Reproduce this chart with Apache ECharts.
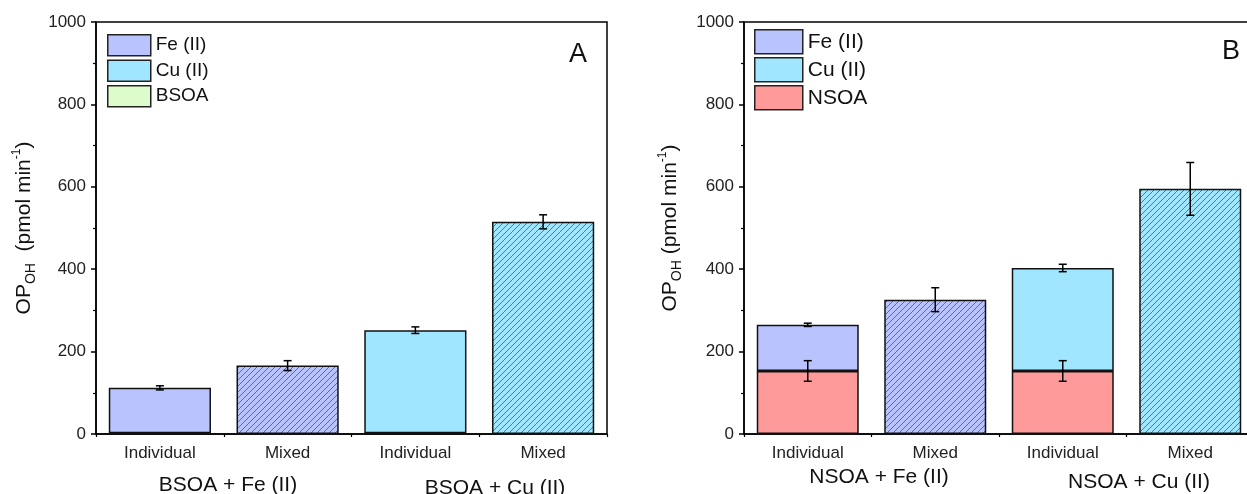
<!DOCTYPE html>
<html>
<head>
<meta charset="utf-8">
<script src="https://cdn.jsdelivr.net/npm/echarts@6/dist/echarts.min.js"></script>
<style>
  html, body { margin: 0; padding: 0; background: #fff; overflow: hidden; }
  #chart { width: 1255px; height: 494px; }
</style>
</head>
<body>
<div id="chart"></div>
<script>
// Categories shared by both panels
const categories = ['Individual', 'Mixed', 'Individual', 'Mixed'];

// Panel A: BSOA with Fe(II) / Cu(II), pmol min^-1
const bsoaA = [2, '-', 2, '-'];
const feA = [110, 166, '-', '-'];
const cuA = ['-', '-', 250, 515];
const errA = [5, 12, 8, 17];

// Panel B: NSOA with Fe(II) / Cu(II), pmol min^-1
const nsoaB = [153, '-', 153, '-'];
const feB = [112, 326, '-', '-'];
const cuB = ['-', '-', 250, 595];
const errNsoaB = [25, '-', 25, '-'];
const errTopB = [4, 29, 9, 64];

const groupsA = ['BSOA + Fe (II)', 'BSOA + Cu (II)'];
const groupsB = ['NSOA + Fe (II)', 'NSOA + Cu (II)'];

const FONT = "'Liberation Sans', Arial, sans-serif";
const COLORS = { fe: '#b9c3fd', cu: '#9fe6fe', bsoa: '#dcfdcb', nsoa: '#fe9a9a' };

// Diagonal hatch pattern for the mixed samples
function hatch(bg) {
  const s = 6;
  const c = document.createElement('canvas');
  c.width = s; c.height = s;
  const g = c.getContext('2d');
  g.fillStyle = bg; g.fillRect(0, 0, s, s);
  g.strokeStyle = 'rgba(50,50,80,0.7)';
  g.lineWidth = 0.9;
  g.beginPath();
  g.moveTo(-1, s + 1); g.lineTo(s + 1, -1);
  g.moveTo(-1, 1); g.lineTo(1, -1);
  g.moveTo(s - 1, s + 1); g.lineTo(s + 1, s - 1);
  g.stroke();
  return { image: c, repeat: 'repeat' };
}

function items(values, color) {
  return values.map((v, i) => {
    if (v === '-') return '-';
    return categories[i] === 'Mixed' ? { value: v, itemStyle: { color: hatch(color) } } : v;
  });
}

function num(v) { return v === '-' ? 0 : v; }

function stackTops(...arrs) {
  return categories.map((_, i) => arrs.reduce((s, a) => s + num(a[i]), 0));
}

function errData(centers, errs) {
  const out = [];
  centers.forEach((c, i) => { if (errs[i] !== '-') out.push([i, c, errs[i]]); });
  return out;
}

function renderErr(params, api) {
  const i = api.value(0), v = api.value(1), e = api.value(2);
  const hi = api.coord([i, v + e]);
  const lo = api.coord([i, v - e]);
  const w = 4;
  const st = { stroke: '#000', lineWidth: 1.5 };
  return {
    type: 'group',
    children: [
      { type: 'line', shape: { x1: hi[0], y1: hi[1], x2: lo[0], y2: lo[1] }, style: st },
      { type: 'line', shape: { x1: hi[0] - w, y1: hi[1], x2: hi[0] + w, y2: hi[1] }, style: st },
      { type: 'line', shape: { x1: lo[0] - w, y1: lo[1], x2: lo[0] + w, y2: lo[1] }, style: st }
    ]
  };
}

const barStyle = { borderColor: '#111', borderWidth: 1.5 };

function bar(name, values, color, axisIdx) {
  return {
    name, type: 'bar', stack: 'total' + axisIdx,
    xAxisIndex: axisIdx * 2, yAxisIndex: axisIdx,
    barWidth: '80%',
    itemStyle: Object.assign({ color }, barStyle),
    data: items(values, color),
    z: 2
  };
}

function errSeries(data, axisIdx) {
  return {
    type: 'custom', xAxisIndex: axisIdx * 2, yAxisIndex: axisIdx,
    renderItem: renderErr, data, z: 5, silent: true
  };
}

function xAxes(gridIndex) {
  return [
    {
      type: 'category', gridIndex, data: categories, position: 'bottom',
      axisLine: { lineStyle: { color: '#000', width: 1.5 } },
      axisTick: { alignWithLabel: true, length: 6, lineStyle: { color: '#000', width: 1.5 } },
      axisLabel: { color: '#222', fontSize: 17, fontFamily: FONT, margin: 11 }
    },
    {
      type: 'category', gridIndex, data: categories, position: 'bottom',
      axisLine: { show: false },
      axisTick: { show: true, length: 3, lineStyle: { color: '#000', width: 1.2 } },
      axisLabel: { show: false }
    }
  ];
}

function yAxis(gridIndex, gap, nameText) {
  return {
    type: 'value', gridIndex, min: 0, max: 1000, interval: 200,
    name: nameText, nameLocation: 'middle', nameGap: gap, nameRotate: 90,
    nameTextStyle: {
      color: '#111', fontFamily: FONT,
      rich: {
        a: { fontSize: 21, fontFamily: FONT, color: '#111', lineHeight: 27 },
        sub: { fontSize: 14, fontFamily: FONT, color: '#111', lineHeight: 14, verticalAlign: 'bottom' },
        sup: { fontSize: 12, fontFamily: FONT, color: '#111', lineHeight: 12, verticalAlign: 'top' }
      }
    },
    axisLine: { show: true, lineStyle: { color: '#000', width: 1.5 } },
    axisTick: { show: true, length: 5, lineStyle: { color: '#000', width: 1.5 } },
    minorTick: { show: true, splitNumber: 2, length: 3, lineStyle: { color: '#000', width: 1.2 } },
    splitLine: { show: false },
    axisLabel: { color: '#222', fontSize: 17, fontFamily: FONT, margin: 10, formatter: v => String(v) }
  };
}

function legend(left, top, w, h, gap, size, names) {
  return {
    orient: 'vertical', left, top, itemWidth: w, itemHeight: h, itemGap: gap,
    icon: 'rect', selectedMode: false, padding: 0,
    itemStyle: { borderColor: '#222', borderWidth: 1.5 },
    textStyle: { fontSize: size, fontFamily: FONT, color: '#111' },
    data: names
  };
}

function label(x, y, text, size) {
  return {
    type: 'text', x, y,
    style: { text, fontSize: size, fontFamily: FONT, fill: '#111', align: 'center', verticalAlign: 'middle' }
  };
}

const topsA = stackTops(bsoaA, feA, cuA);
const topsB = stackTops(nsoaB, feB, cuB);

const chart = echarts.init(document.getElementById('chart'), null, { renderer: 'canvas' });
chart.setOption({
  animation: false,
  backgroundColor: '#fff',
  grid: [
    { left: 96, right: 648, top: 22, bottom: 60, show: true, borderColor: '#000', borderWidth: 1.5, backgroundColor: 'transparent' },
    { left: 744, right: 1, top: 22, bottom: 60, show: true, borderColor: '#000', borderWidth: 1.5, backgroundColor: 'transparent' }
  ],
  legend: [
    legend(107, 34, 43, 21, 3, 19, ['Fe (II)', 'Cu (II)', 'BSOA']),
    legend(754, 29, 48, 24, 2.5, 21, ['Fe (II)', 'Cu (II)', 'NSOA'])
  ],
  xAxis: [...xAxes(0), ...xAxes(1)],
  yAxis: [
    yAxis(0, 58, '{a|OP}{sub|OH}{a|  (pmol min}{sup|-1}{a|)}'),
    yAxis(1, 60, '{a|OP}{sub|OH}{a| (pmol min}{sup|-1}{a|)}')
  ],
  series: [
    bar('BSOA', bsoaA, COLORS.bsoa, 0),
    bar('Fe (II)', feA, COLORS.fe, 0),
    bar('Cu (II)', cuA, COLORS.cu, 0),
    errSeries(errData(topsA, errA), 0),
    bar('NSOA', nsoaB, COLORS.nsoa, 1),
    bar('Fe (II)', feB, COLORS.fe, 1),
    bar('Cu (II)', cuB, COLORS.cu, 1),
    errSeries(errData(nsoaB.map(num), errNsoaB), 1),
    errSeries(errData(topsB, errTopB), 1)
  ],
  graphic: [
    { type: 'text', left: 569, top: 41, style: { text: 'A', fontSize: 27, fontFamily: FONT, fill: '#111' } },
    { type: 'text', left: 1222, top: 38, style: { text: 'B', fontSize: 27, fontFamily: FONT, fill: '#111' } },
    label(228, 485, groupsA[0], 21),
    label(495, 488, groupsA[1], 21),
    label(879, 477, groupsB[0], 21),
    label(1139, 482, groupsB[1], 21)
  ]
});
</script>
</body>
</html>
